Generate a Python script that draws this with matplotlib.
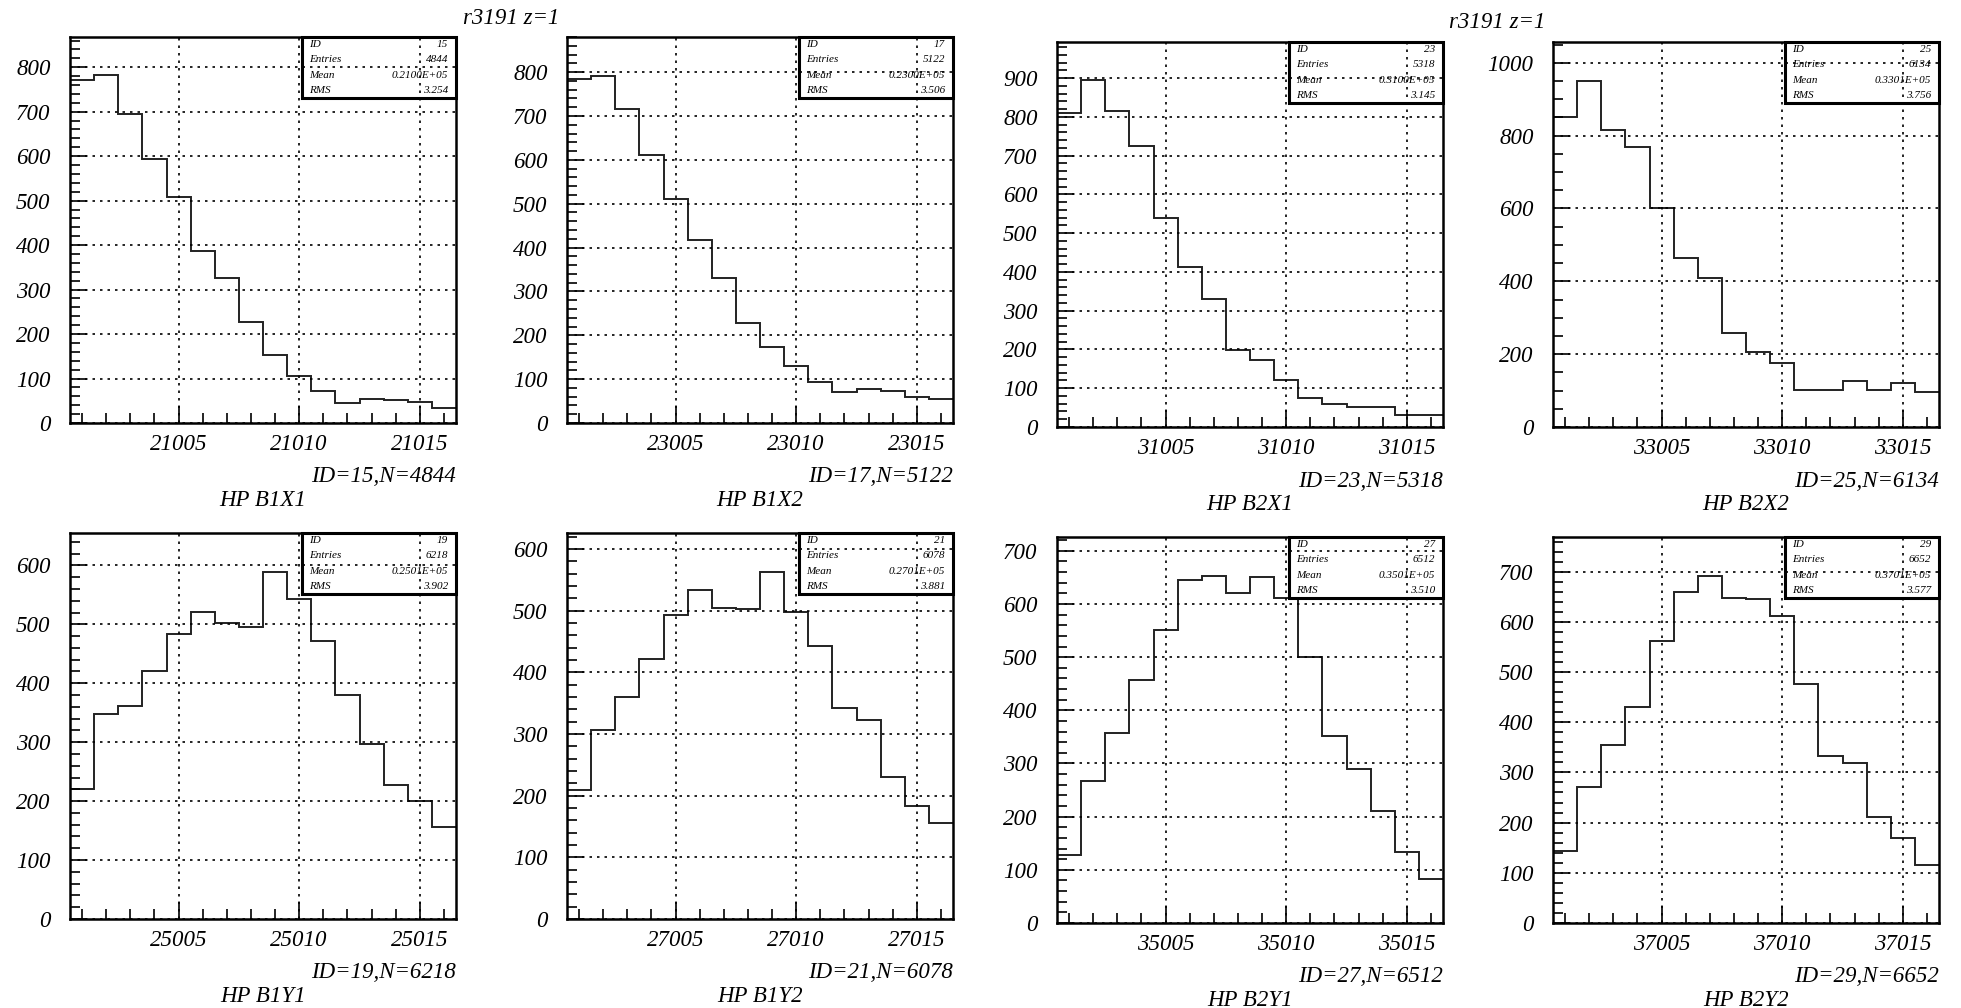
import numpy as np
import matplotlib
matplotlib.use("Agg")
import matplotlib.pyplot as plt
from matplotlib.ticker import MultipleLocator, FixedLocator
from matplotlib.patches import Rectangle

# histogram contents, 16 unit bins each
ids = [15, 17, 23, 25, 19, 21, 27, 29]
names = ["HP B1X1", "HP B1X2", "HP B2X1", "HP B2X2",
         "HP B1Y1", "HP B1Y2", "HP B2Y1", "HP B2Y2"]
entries = [4844, 5122, 5318, 6134, 6218, 6078, 6512, 6652]
means = ["0.2100E+05", "0.2300E+05", "0.3100E+05", "0.3301E+05",
         "0.2501E+05", "0.2701E+05", "0.3501E+05", "0.3701E+05"]
rms = ["3.254", "3.506", "3.145", "3.756", "3.902", "3.881", "3.510", "3.577"]
x_start = [21001, 23001, 31001, 33001, 25001, 27001, 35001, 37001]

b1x1 = [771, 782, 695, 594, 508, 387, 326, 226, 152, 106, 73, 45, 54, 51, 48, 34]
b1x2 = [784, 792, 715, 611, 510, 418, 331, 228, 174, 131, 93, 71, 77, 74, 59, 55]
b2x1 = [809, 894, 816, 725, 539, 413, 331, 199, 172, 122, 76, 60, 51, 51, 31, 31]
b2x2 = [850, 951, 816, 770, 601, 464, 408, 257, 206, 177, 102, 102, 125, 102, 122, 95]
b1y1 = [221, 348, 362, 421, 483, 521, 503, 495, 589, 543, 471, 380, 297, 227, 201, 156]
b1y2 = [209, 306, 360, 422, 493, 534, 504, 502, 563, 498, 443, 343, 322, 231, 183, 155]
b2y1 = [127, 268, 358, 457, 552, 645, 653, 620, 650, 612, 500, 352, 290, 211, 133, 82]
b2y2 = [144, 271, 355, 430, 561, 660, 692, 648, 645, 612, 477, 333, 319, 212, 169, 115]
contents = [b1x1, b1x2, b2x1, b2x2, b1y1, b1y2, b2y1, b2y2]

y_max = [868, 880, 993, 1057, 655, 626, 726, 769]
y_major = [100, 100, 100, 200, 100, 100, 100, 100]
y_minor = [20, 20, 20, 50, 20, 20, 20, 20]

# axes boxes in pixels: left, top, right, bottom
boxes = [(70, 37, 456, 423), (567, 37, 953, 423),
         (1057, 42, 1443, 427), (1553, 42, 1939, 427),
         (70, 533, 456, 919), (567, 533, 953, 919),
         (1057, 537, 1443, 923), (1553, 537, 1939, 923)]

W, H = 1961, 1008
FONT = "Liberation Serif"
fig = plt.figure(figsize=(W / 100, H / 100), dpi=100)

for i in range(8):
    l, t, r, b = boxes[i]
    ax = fig.add_axes([l / W, 1 - b / H, (r - l) / W, (b - t) / H])
    x0 = x_start[i]
    edges = np.arange(x0 - 0.5, x0 + 16, 1.0)
    ax.stairs(contents[i], edges, baseline=None, color="#222222", lw=1.4)
    ax.set_xlim(edges[0], edges[-1])
    ax.set_ylim(0, y_max[i])

    ax.xaxis.set_major_locator(FixedLocator([x0 + 4, x0 + 9, x0 + 14]))
    ax.xaxis.set_minor_locator(MultipleLocator(1))
    ax.yaxis.set_major_locator(MultipleLocator(y_major[i]))
    ax.yaxis.set_minor_locator(MultipleLocator(y_minor[i]))
    ax.tick_params(which="both", direction="in", top=False, right=False, width=1.2)
    ax.tick_params(which="major", length=12)
    ax.tick_params(which="minor", length=7)
    ax.tick_params(axis="x", which="major", pad=8)
    ax.tick_params(axis="y", which="major", pad=14)
    for lab in ax.get_xticklabels() + ax.get_yticklabels():
        lab.set_fontfamily(FONT)
        lab.set_fontstyle("italic")
        lab.set_fontsize(16.5)
    ax.grid(True, which="major", ls=(0, (1.5, 3)), color="black", lw=1.2)
    for sp in ax.spines.values():
        sp.set_linewidth(1.8)

    # stats box (transparent, grid shows through)
    ax.add_patch(Rectangle((0.6, 0.842), 0.4, 0.158, transform=ax.transAxes,
                           fill=False, ec="black", lw=2.2, zorder=5, clip_on=False))
    rows = [("ID", str(ids[i])), ("Entries", str(entries[i])),
            ("Mean", means[i]), ("RMS", rms[i])]
    for k, (lab, val) in enumerate(rows):
        yy = 1 - 0.158 * (0.125 + 0.25 * k)
        ax.text(0.62, yy, lab, transform=ax.transAxes, ha="left", va="center",
                fontsize=8, family=FONT, style="italic")
        ax.text(0.98, yy, val, transform=ax.transAxes, ha="right", va="center",
                fontsize=8, family=FONT, style="italic")

    fig.text(r / W, 1 - (b + 54) / H, "ID=%d,N=%d" % (ids[i], entries[i]),
             ha="right", va="center", fontsize=16.5, family=FONT, style="italic")
    fig.text((l + r) / 2 / W, 1 - (b + 77) / H, names[i],
             ha="center", va="center", fontsize=16.5, family=FONT, style="italic")

fig.text(511 / W, 1 - 18 / H, "r3191 z=1", ha="center", va="center",
         fontsize=16.5, family=FONT, style="italic")
fig.text(1497 / W, 1 - 22 / H, "r3191 z=1", ha="center", va="center",
         fontsize=16.5, family=FONT, style="italic")

fig.savefig("out.png", dpi=100)
